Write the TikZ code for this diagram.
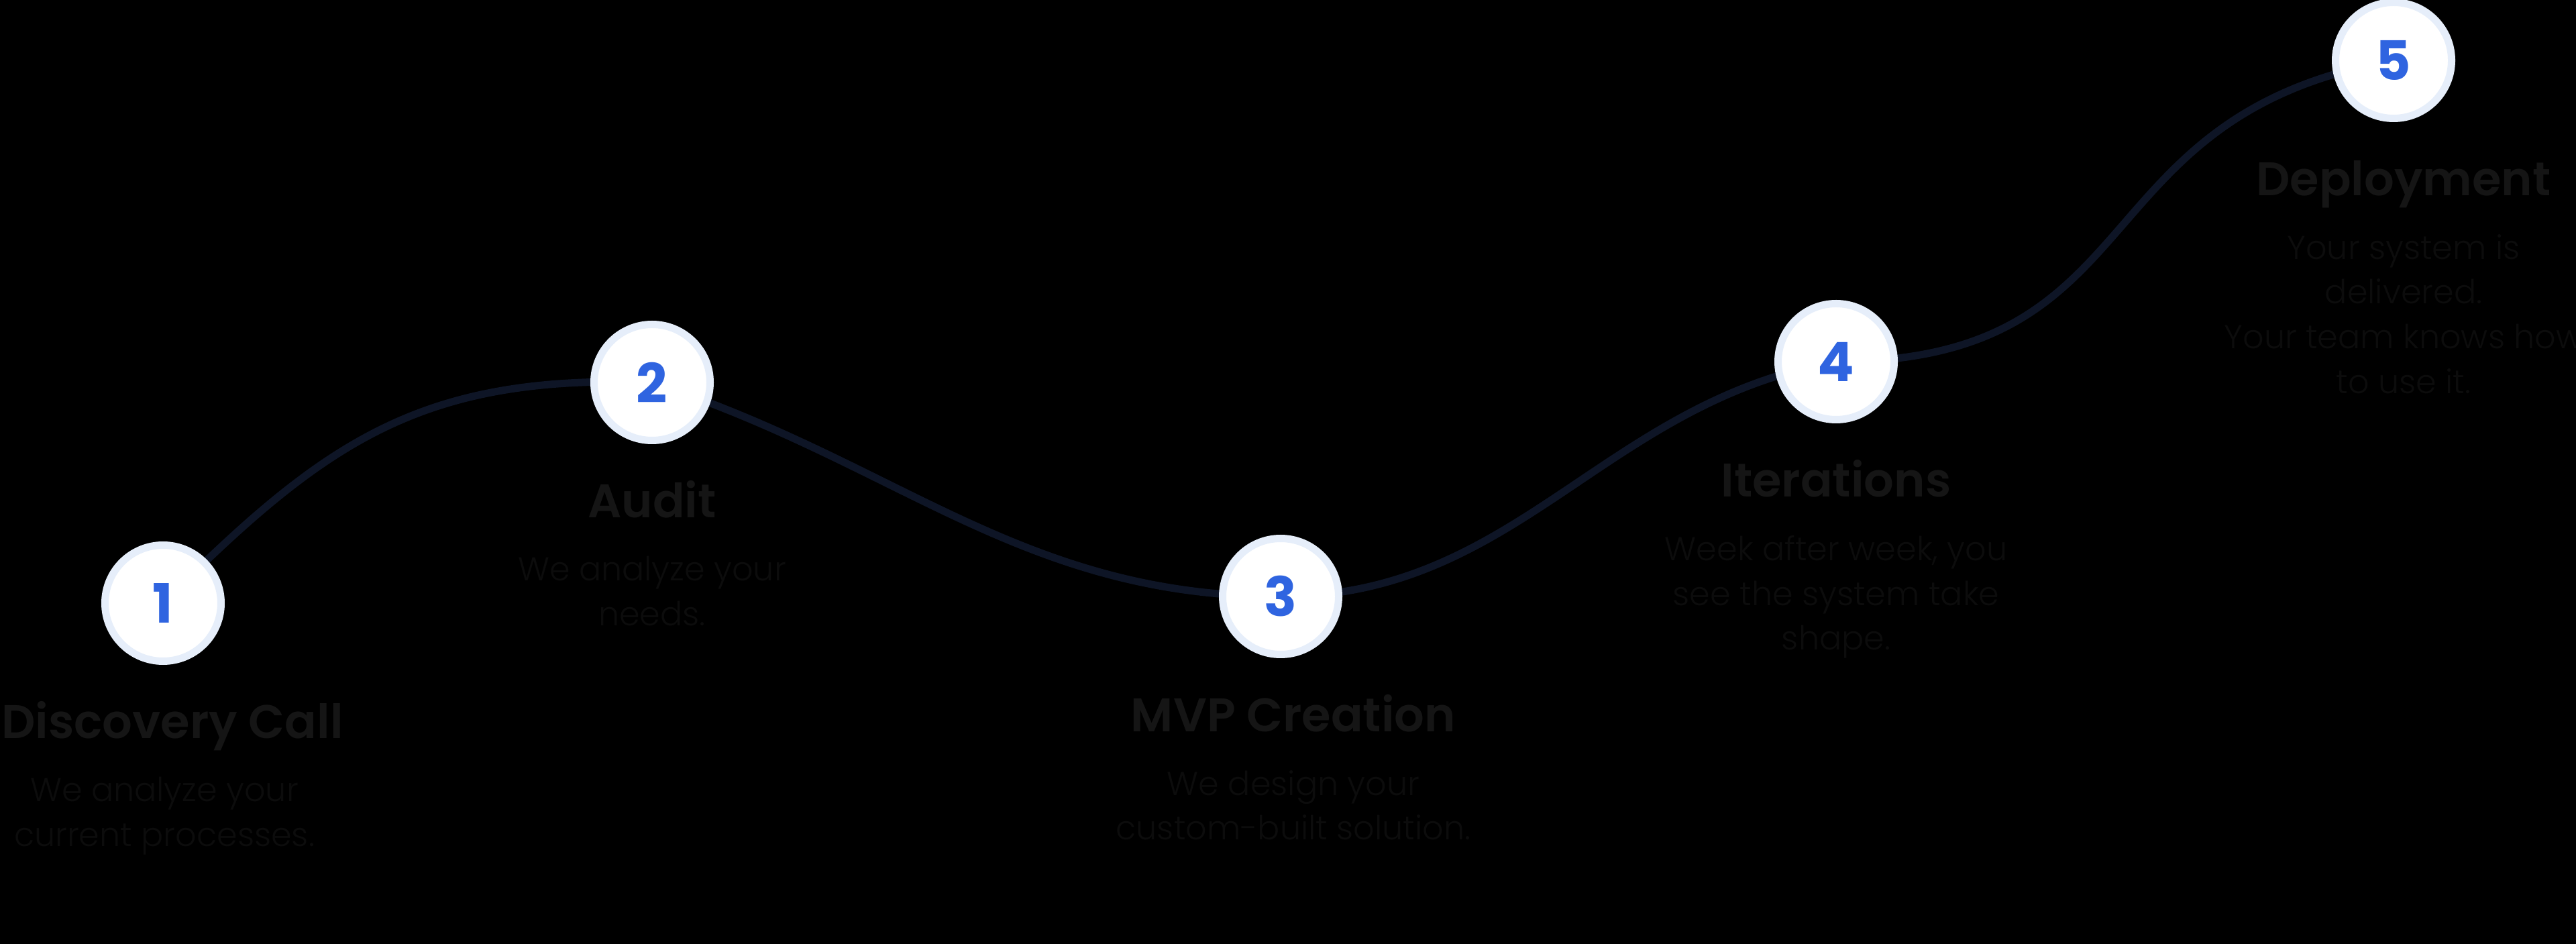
\documentclass[tikz,border=0pt]{standalone}
\usepackage{fontspec}
\setmainfont{Poppins}
\newfontfamily\headfont{Poppins SemiBold}
\newfontfamily\bodyfont{Poppins Light}
\usepackage{xcolor}
\usepackage{tikz}
\usetikzlibrary{positioning}
\definecolor{trackcol}{HTML}{0E1526}
\definecolor{ringcol}{HTML}{E6EEFA}
\definecolor{numcol}{HTML}{2F64E0}
\definecolor{headcol}{HTML}{151515}
\definecolor{bodycol}{HTML}{0C0C0C}
\pgfdeclarelayer{backdrop}
\pgfdeclarelayer{background}
\pgfsetlayers{backdrop,background,main}
\tikzstyle{stepnum} = [circle, draw=ringcol, fill=white, line width=0.11cm, minimum size=1.73cm, inner sep=0pt, text=numcol, font=\fontsize{23}{23}\selectfont\bfseries]
\tikzstyle{head} = [inner sep=0pt, text height=0.5cm, text depth=0pt, text=headcol, font=\fontsize{20}{20}\selectfont\headfont]
\tikzstyle{desc} = [inner sep=0pt, align=center, text=bodycol, font=\fontsize{14}{19}\selectfont\bodyfont]
\tikzstyle{track} = [trackcol, line width=0.11cm]

\begin{document}
\begin{tikzpicture}
    \useasboundingbox (0,0) rectangle (38.4,-14.07);
    \begin{pgfonlayer}{backdrop}
        \fill[black] (0,0) rectangle (38.4,-14.07);
    \end{pgfonlayer}

    % Steps
    \node[stepnum] (c1) at (2.43,-8.99) {1};
    \node[stepnum] (c2) at (9.72,-5.70) {2};
    \node[stepnum] (c3) at (19.09,-8.89) {3};
    \node[stepnum] (c4) at (27.37,-5.39) {4};
    \node[stepnum] (c5) at (35.68,-0.90) {5};

    % Track
    \begin{pgfonlayer}{background}
        \draw[track] (c1.center) to[out=45, in=178, looseness=1.1] (c2.center)
            to[out=-18, in=180] (c3.center)
            to[out=0, in=190] (c4.center)
            to[out=0, in=190, looseness=1.3] (c5.center);
    \end{pgfonlayer}

    % Titles
    \node[head, below=0.59cm of c1, xshift=0.14cm] (h1) {Discovery Call};
    \node[head, below=0.59cm of c2] (h2) {Audit};
    \node[head, below=0.59cm of c3, xshift=0.19cm] (h3) {MVP Creation};
    \node[head, below=0.59cm of c4] (h4) {Iterations};
    \node[head, below=0.59cm of c5, xshift=0.15cm] (h5) {Deployment};

    % Descriptions
    \node[desc, below=0.56cm of h1, xshift=-0.12cm] (d1) {We analyze your\\current processes.};
    \node[desc, below=0.56cm of h2] (d2) {We analyze your\\needs.};
    \node[desc, below=0.56cm of h3] (d3) {We design your\\custom-built solution.};
    \node[desc, below=0.56cm of h4] (d4) {Week after week, you\\see the system take\\shape.};
    \node[desc, below=0.56cm of h5] (d5) {Your system is\\delivered.\\Your team knows how\\to use it.};
\end{tikzpicture}
\end{document}
